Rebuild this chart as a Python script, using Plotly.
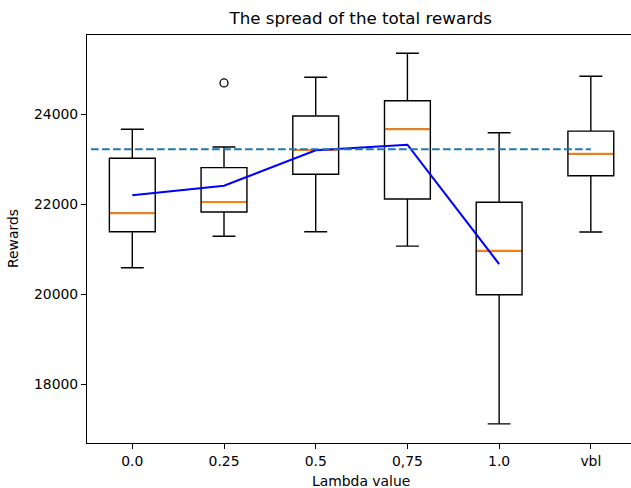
import plotly.graph_objects as go

# Box statistics per lambda setting
labels = ["0.0", "0.25", "0.5", "0,75", "1.0", "vbl"]
positions = [0, 1, 2, 3, 4, 5]
lower_whisker = [20590, 21290, 21390, 21070, 17120, 21385]
q1 = [21390, 21830, 22667, 22118, 19990, 22636]
median = [21800, 22051, 23207, 23667, 20969, 23124]
q3 = [23022, 22814, 23962, 24302, 22044, 23625]
upper_whisker = [23667, 23274, 24822, 25356, 23591, 24844]

# Outlier points
outlier_x = [1]
outlier_y = [24696]

# Mean reward for the lambda runs (vbl excluded)
mean_x = [0, 1, 2, 3, 4]
mean_y = [22200, 22413, 23200, 23324, 20673]

# Reference level drawn as a dashed line
ref_level = 23222
ref_x = [-0.45, 5]

BOX_W = 0.5
FONT = "DejaVu Sans"

fig = go.Figure()

fig.add_trace(go.Box(
    x=positions, q1=q1, median=median, q3=q3,
    lowerfence=lower_whisker, upperfence=upper_whisker,
    width=BOX_W, whiskerwidth=0.5,
    line=dict(color="black", width=1.4),
    fillcolor="rgba(0,0,0,0)",
    boxpoints=False, showlegend=False, hoverinfo="skip",
))

# Orange median bars across each box (wide enough to cover the black median)
for p, m in zip(positions, median):
    fig.add_trace(go.Scatter(
        x=[p - BOX_W / 2 + 0.008, p + BOX_W / 2 - 0.008], y=[m, m], mode="lines",
        line=dict(color="#ff7f0e", width=2.0),
        showlegend=False, hoverinfo="skip",
    ))

fig.add_trace(go.Scatter(
    x=outlier_x, y=outlier_y, mode="markers",
    marker=dict(symbol="circle-open", size=8, color="black",
                line=dict(color="black", width=1.3)),
    showlegend=False, hoverinfo="skip",
))

fig.add_trace(go.Scatter(
    x=mean_x, y=mean_y, mode="lines",
    line=dict(color="#0000ff", width=2.1),
    showlegend=False, hoverinfo="skip",
))

fig.add_trace(go.Scatter(
    x=ref_x, y=[ref_level, ref_level], mode="lines",
    line=dict(color="#1f77b4", width=2.1, dash="7.7px,3.3px"),
    showlegend=False, hoverinfo="skip",
))

L, T, B, W, H = 87, 35, 45, 631, 488
fig.update_layout(
    width=W, height=H,
    margin=dict(l=L, r=0, t=T, b=B, pad=0),
    paper_bgcolor="white", plot_bgcolor="white",
    font=dict(family=FONT, size=13.9, color="black"),
    hovermode=False,
    showlegend=False,
    title=dict(text="The spread of the total rewards", font=dict(size=16.7, color="black"),
               x=360.75 / W, xanchor="center", xref="container",
               y=1 - 18.5 / H, yanchor="middle", yref="container"),
)

fig.update_xaxes(
    range=[-0.494, 5.438], tickmode="array", tickvals=positions, ticktext=labels,
    showgrid=False, zeroline=False,
    showline=True, linecolor="black", linewidth=1.1, mirror=True,
    ticks="outside", ticklen=5, tickwidth=1.1, tickcolor="black",
    tickfont=dict(size=13.9, color="black"),
)
fig.update_yaxes(
    range=[16696, 25762], tickmode="array", tickvals=[18000, 20000, 22000, 24000],
    ticktext=["18000", "20000", "22000", "24000"],
    showgrid=False, zeroline=False,
    showline=True, linecolor="black", linewidth=1.1, mirror=False,
    ticks="outside", ticklen=5, tickwidth=1.1, tickcolor="black",
    tickfont=dict(size=13.9, color="black"),
)

plot_w = W - L
fig.add_annotation(text="Lambda value", xref="paper", yref="paper",
                   x=(360.75 - L) / plot_w, y=-(481 - (H - B)) / (H - T - B),
                   xanchor="center", yanchor="middle", showarrow=False,
                   font=dict(size=13.9, color="black"))
fig.add_annotation(text="Rewards", xref="paper", yref="paper",
                   x=(13 - L) / plot_w, y=0.5, textangle=-90,
                   xanchor="center", yanchor="middle", showarrow=False,
                   font=dict(size=13.9, color="black"))

fig.write_html("out.html", config={"displayModeBar": False})
